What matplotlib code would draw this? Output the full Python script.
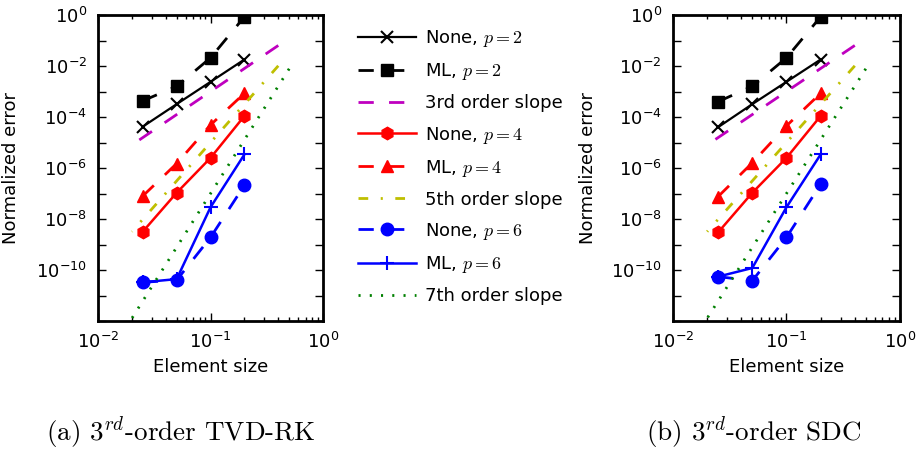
import math
import matplotlib
matplotlib.use("Agg")
import matplotlib.pyplot as plt
from matplotlib.ticker import LogLocator, FuncFormatter, NullLocator

plt.rcParams['mathtext.fontset'] = 'cm'
plt.rcParams['font.family'] = 'DejaVu Sans'
plt.rcParams['lines.scale_dashes'] = False

# element sizes
h = [0.025, 0.05, 0.1, 0.2]

# (a) 3rd-order TVD-RK
none_p2_a = [4.2e-5, 3.2e-4, 2.4e-3, 1.8e-2]
ml_p2_a = [4.3e-4, 1.6e-3, 2.1e-2, 0.85]
none_p4_a = [3.2e-9, 1.07e-7, 2.5e-6, 1.1e-4]
ml_p4_a = [8.0e-8, 1.5e-6, 4.9e-5, 8.5e-4]
none_p6_a = [3.3e-11, 4.0e-11, 1.9e-9, 2.1e-7]
ml_p6_a = [3.3e-11, 4.4e-11, 2.9e-8, 3.4e-6]

# (b) 3rd-order SDC
none_p2_b = [4.0e-5, 3.2e-4, 2.4e-3, 1.8e-2]
ml_p2_b = [4.0e-4, 1.6e-3, 2.1e-2, 0.85]
none_p4_b = [3.0e-9, 1.07e-7, 2.5e-6, 1.1e-4]
ml_p4_b = [7.6e-8, 1.6e-6, 4.5e-5, 8.5e-4]
none_p6_b = [5.5e-11, 3.8e-11, 1.9e-9, 2.3e-7]
ml_p6_b = [5.5e-11, 1.2e-10, 2.9e-8, 3.4e-6]

# reference slopes (end points, drawn from the large end down)
slope3_x = [0.4, 0.02]
slope3_y = [6.4e-2, 8.0e-6]
slope5_x = [0.4, 0.02]
slope5_y = [1.02e-2, 3.2e-9]
slope7_x = [0.5, 0.02]
slope7_y = [7.8e-3, 1.28e-12]

captions = [r'(a) $3^{rd}$-order TVD-RK', r'(b) $3^{rd}$-order SDC']

DASH = (11, 11)


def ylab(v, pos):
    e = round(math.log10(v))
    if e % 2 or e < -10:
        return ''
    return r'$\mathdefault{10^{%d}}$' % e


def xlab(v, pos):
    return r'$\mathdefault{10^{%d}}$' % round(math.log10(v))


def draw(ax, n2, m2, n4, m4, n6, m6):
    ax.loglog(h, n2, color='k', lw=1.6, marker='x', ms=9, mew=1.5, label='None, $p=2$')
    ax.loglog(h, m2, color='k', lw=2, ls=(0, DASH), marker='s', ms=9, mec='k', label='ML, $p=2$')
    ax.loglog(slope3_x, slope3_y, color='m', lw=2, ls=(0, DASH), label='3rd order slope')
    ax.loglog(h, n4, color='r', lw=1.8, marker='h', ms=9, mec='r', label='None, $p=4$')
    ax.loglog(h, m4, color='r', lw=2, ls=(0, DASH), marker='^', ms=9, mec='r', label='ML, $p=4$')
    ax.loglog(slope5_x, slope5_y, color='y', lw=2, ls=(0, (7, 9, 1.5, 9)), label='5th order slope')
    ax.loglog(h, n6, color='b', lw=2, ls=(0, DASH), marker='o', ms=9, mec='b', label='None, $p=6$')
    ax.loglog(h, m6, color='b', lw=1.8, marker='+', ms=10, mew=1.5, label='ML, $p=6$')
    ax.loglog(slope7_x, slope7_y, color='g', lw=2, ls=(0, (1.5, 6.6)), label='7th order slope')

    ax.set_xlim(1e-2, 1e0)
    ax.set_ylim(1e-12, 1e0)
    ax.yaxis.set_major_locator(LogLocator(base=10, numticks=20))
    ax.yaxis.set_minor_locator(NullLocator())
    ax.yaxis.set_major_formatter(FuncFormatter(ylab))
    ax.xaxis.set_major_formatter(FuncFormatter(xlab))
    ax.tick_params(which='both', direction='in', top=True, right=True, labelsize=13, width=1)
    ax.tick_params(which='major', length=5.5, pad=8)
    ax.tick_params(which='minor', length=2.8)
    for s in ax.spines.values():
        s.set_linewidth(2)
    ax.set_xlabel('Element size', fontsize=13)
    ax.set_ylabel('Normalized error', fontsize=13)


fig = plt.figure(figsize=(9.17, 4.55), dpi=100)
ax1 = fig.add_axes([0.1069, 0.2945, 0.2454, 0.6725])
ax2 = fig.add_axes([0.7339, 0.2945, 0.2475, 0.6725])

draw(ax1, none_p2_a, ml_p2_a, none_p4_a, ml_p4_a, none_p6_a, ml_p6_a)
draw(ax2, none_p2_b, ml_p2_b, none_p4_b, ml_p4_b, none_p6_b, ml_p6_b)
ax1.yaxis.set_label_coords(-0.347, 0.5)
ax2.yaxis.set_label_coords(-0.335, 0.5)

handles, labels = ax1.get_legend_handles_labels()
fig.legend(handles, labels, loc='upper left', bbox_to_anchor=(0.390, 0.938),
           frameon=False, fontsize=13, handlelength=3.25, handletextpad=0.5,
           labelspacing=0.67, borderpad=0, borderaxespad=0, numpoints=1)

fig.text(0.197, 0.048, captions[0], family='cmr10', fontsize=19.5, ha='center', va='center')
fig.text(0.822, 0.048, captions[1], family='cmr10', fontsize=19.5, ha='center', va='center')

fig.savefig('out.png', dpi=100)
